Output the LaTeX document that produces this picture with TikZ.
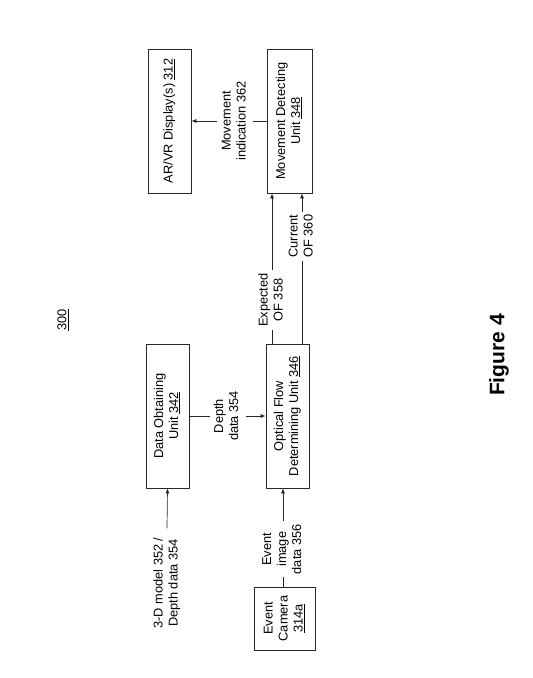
\documentclass[tikz,border=0pt]{standalone}
\usepackage{fontspec}
\setmainfont{Liberation Sans}
\usetikzlibrary{arrows.meta}
\newcommand{\rtxt}[1]{\rotatebox{90}{\begin{tabular}{@{}c@{}}#1\end{tabular}}}
\begin{document}
\begin{tikzpicture}[x=1pt,y=-1pt,
  font=\fontsize{12.8}{15}\selectfont,
  unitbox/.style={draw=black!85, line width=0.7pt, inner sep=0pt},
  lbl/.style={fill=white, inner sep=3pt},
  conn/.style={draw=black!85, line width=0.7pt, -{Latex[length=5pt,width=4pt]}}]
\useasboundingbox (0,0) rectangle (533,678);

\node[unitbox, minimum width=43pt, minimum height=144pt] (ar) at (169.5,121) {\rtxt{AR/VR Display(s) \underline{312}}};
\node[unitbox, minimum width=45pt, minimum height=144pt] (md) at (289.5,121) {\rtxt{Movement Detecting\\Unit \underline{348}}};
\node[unitbox, minimum width=43pt, minimum height=144pt] (do) at (167.5,416) {\rtxt{Data Obtaining\\Unit \underline{342}}};
\node[unitbox, minimum width=43pt, minimum height=144pt] (of) at (287.5,416) {\rtxt{Optical Flow\\Determining Unit \underline{346}}};
\node[unitbox, minimum width=61pt, minimum height=63pt] (ec) at (284.5,618.5) {\rtxt{Event\\Camera\\\underline{314a}}};

\coordinate (xe) at (272,0);
\coordinate (xc) at (302,0);
\coordinate (xv) at (283,0);

\draw[conn] (md.west) -- node[lbl, pos=0.42] (lmi) {\rtxt{Movement\\indication 362}} (ar.east);
\draw[conn] (of.north -| xe) -- node[lbl, pos=0.29] (lex) {\rtxt{Expected\\OF 358}} (md.south -| xe);
\draw[conn] (of.north -| xc) -- node[lbl, pos=0.715] (lcu) {\rtxt{Current\\OF 360}} (md.south -| xc);
\draw[conn] (do.east) -- node[lbl, pos=0.5] (ldp) {\rtxt{Depth\\data 354}} (of.west);
\draw[conn] (ec.north -| xv) -- node[lbl, pos=0.38] (lev) {\rtxt{Event\\image\\data 356}} (of.south -| xv);

\node[inner xsep=0pt, inner ysep=9pt] (l3d) at (167,583) {\rtxt{3-D model 352 /\\Depth data 354}};
\draw[conn] (l3d.north) -- (do.south);

\node (n300) at (63,320) {\rotatebox{90}{\underline{300}}};
\node (fig) at (499,355) {\rotatebox{90}{\fontsize{21}{25}\selectfont\bfseries Figure 4}};
\end{tikzpicture}
\end{document}
